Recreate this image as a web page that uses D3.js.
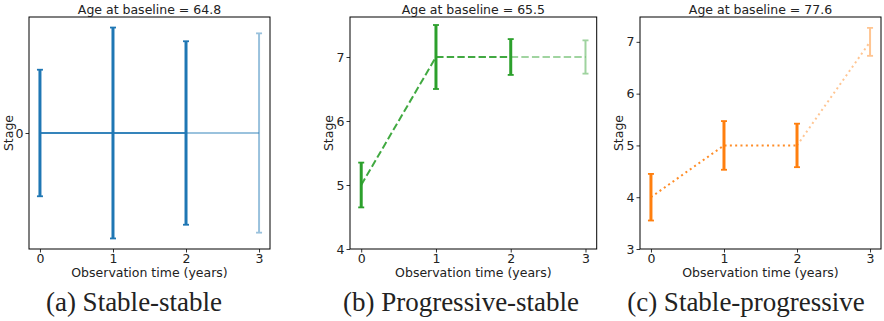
<!DOCTYPE html>
<html>
<head>
<meta charset="utf-8">
<script src="https://cdn.jsdelivr.net/npm/d3@7"></script>
<style>
  body { margin: 0; background: #fff; }
</style>
</head>
<body>
<div id="chart"></div>
<script>
// Data
const times = [0, 1, 2, 3];
const stagesA = [0, 0, 0, 0];
const errA = [0.6, 1.0, 0.87, 0.945];
const stagesB = [5, 7, 7, 7];
const errB = [0.35, 0.5, 0.28, 0.26];
const stagesC = [4, 5, 5, 7];
const errC = [0.45, 0.47, 0.42, 0.27];
const ages = [64.8, 65.5, 77.6];
const captions = ['(a) Stable-stable', '(b) Progressive-stable', '(c) Stable-progressive'];
const xTicks = [0, 1, 2, 3];
const yTicksA = [0];
const yTicksB = [4, 5, 6, 7];
const yTicksC = [3, 4, 5, 6, 7];

const W = 884, H = 321;
const SANS = '"DejaVu Sans", sans-serif';
const SERIF = '"Liberation Serif", serif';
const svg = d3.select('#chart').append('svg')
    .attr('width', W)
    .attr('height', H);

// panel layout + styles
const panels = [
    { left: 29, right: 270, stages: stagesA, err: errA, yTicks: yTicksA, yDomain: [-1.1, 1.1],
      color: '#1f77b4', dash: null, ylabelX: 13, capX: 134 },
    { left: 350, right: 596.7, stages: stagesB, err: errB, yTicks: yTicksB, yDomain: [4, 7.625],
      color: '#2ca02c', dash: '7.4,3.2', ylabelX: 333, capX: 461 },
    { left: 640, right: 881, stages: stagesC, err: errC, yTicks: yTicksC, yDomain: [3, 7.48],
      color: '#ff7f0e', dash: '2,3.3', ylabelX: 623, capX: 746 }
];
const axTop = 17, axBottom = 249;

panels.forEach((p, i) => {
    const x = d3.scaleLinear().domain([-0.15, 3.15]).range([p.left, p.right]);
    const y = d3.scaleLinear().domain(p.yDomain).range([axBottom, axTop]);
    const g = svg.append('g');

    // Line segments: full for first three points, faded towards the last one
    const line = d3.line().x(d => x(d[0])).y(d => y(d[1]));
    const pts = times.map((t, k) => [t, p.stages[k]]);
    g.append('path')
        .attr('d', line(pts.slice(0, 3)))
        .attr('fill', 'none')
        .attr('stroke', p.color)
        .attr('stroke-width', 2)
        .attr('stroke-opacity', 0.9)
        .attr('stroke-dasharray', p.dash);
    g.append('path')
        .attr('d', line(pts.slice(2)))
        .attr('fill', 'none')
        .attr('stroke', p.color)
        .attr('stroke-width', 2)
        .attr('stroke-opacity', 0.45)
        .attr('stroke-dasharray', p.dash);

    // Error bars
    times.forEach((t, k) => {
        const faded = k === 3;
        const eg = g.append('g').attr('opacity', faded ? 0.45 : 1);
        const cx = x(t);
        const y0 = y(p.stages[k] - p.err[k]);
        const y1 = y(p.stages[k] + p.err[k]);
        eg.append('line')
            .attr('x1', cx).attr('x2', cx)
            .attr('y1', y0).attr('y2', y1)
            .attr('stroke', p.color)
            .attr('stroke-width', faded ? 2 : 3);
        [y0, y1].forEach(yy => {
            eg.append('line')
                .attr('x1', cx - 3).attr('x2', cx + 3)
                .attr('y1', yy).attr('y2', yy)
                .attr('stroke', p.color)
                .attr('stroke-width', 1.8);
        });
    });

    // Axes
    const styleAxis = a => {
        a.select('.domain').remove();
        a.selectAll('line').attr('stroke', '#000').attr('stroke-width', 0.8);
        a.selectAll('text')
            .style('font-family', SANS)
            .style('font-size', '12.5px')
            .attr('fill', '#222');
    };
    g.append('g')
        .attr('transform', `translate(0,${axBottom})`)
        .call(d3.axisBottom(x).tickValues(xTicks).tickFormat(d3.format('d')).tickSize(3.5).tickPadding(1.5))
        .call(styleAxis);
    g.append('g')
        .attr('transform', `translate(${p.left},0)`)
        .call(d3.axisLeft(y).tickValues(p.yTicks).tickFormat(d3.format('d')).tickSize(3.5).tickPadding(2))
        .call(styleAxis);

    // Frame
    g.append('rect')
        .attr('x', p.left).attr('y', axTop)
        .attr('width', p.right - p.left).attr('height', axBottom - axTop)
        .attr('fill', 'none')
        .attr('stroke', '#000')
        .attr('stroke-width', 1);

    const cxm = (p.left + p.right) / 2;
    g.append('text')
        .attr('x', cxm).attr('y', 14)
        .attr('text-anchor', 'middle')
        .attr('fill', '#222')
        .style('font-family', SANS)
        .style('font-size', '12.5px')
        .text(`Age at baseline = ${ages[i]}`);
    g.append('text')
        .attr('x', cxm).attr('y', 277)
        .attr('text-anchor', 'middle')
        .attr('fill', '#222')
        .style('font-family', SANS)
        .style('font-size', '12.5px')
        .text('Observation time (years)');
    g.append('text')
        .attr('transform', `translate(${p.ylabelX},${(axTop + axBottom) / 2}) rotate(-90)`)
        .attr('text-anchor', 'middle')
        .attr('fill', '#222')
        .style('font-family', SANS)
        .style('font-size', '12.5px')
        .text('Stage');
    g.append('text')
        .attr('x', p.capX).attr('y', 311)
        .attr('text-anchor', 'middle')
        .attr('fill', '#222')
        .style('font-family', SERIF)
        .style('font-size', '27px')
        .text(captions[i]);
});
</script>
</body>
</html>
